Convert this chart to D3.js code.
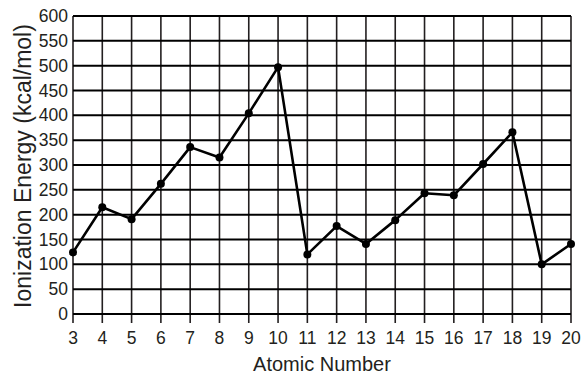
<!DOCTYPE html>
<html>
<head>
<meta charset="utf-8">
<script src="https://cdn.jsdelivr.net/npm/d3@7"></script>
<style>
  body { margin: 0; background: #fff; }
  svg text { font-family: "Liberation Sans", Arial, Helvetica, sans-serif; fill: #231f20; }
</style>
</head>
<body>
<div id="chart"></div>
<script>
// atomic numbers 3..20 and first ionization energies (kcal/mol)
var atomicNumbers = [3, 4, 5, 6, 7, 8, 9, 10, 11, 12, 13, 14, 15, 16, 17, 18, 19, 20];
var energies = [124, 215, 191, 262, 336, 315, 404, 497, 120, 177, 141, 189, 243, 239, 302, 366, 100, 141];
var yTicks = [0, 50, 100, 150, 200, 250, 300, 350, 400, 450, 500, 550, 600];

var data = atomicNumbers.map(function(z, i) { return {z: z, e: energies[i]}; });

var margin = {top: 16, right: 11, bottom: 61, left: 73};
var width = 582 - margin.left - margin.right;
var height = 375 - margin.top - margin.bottom;

var svg = d3.select("#chart").append("svg")
    .attr("width", 582)
    .attr("height", 375)
    .append("g")
    .attr("transform", "translate(" + margin.left + "," + margin.top + ")");

var x = d3.scaleLinear().domain([3, 20]).range([0, width]);
var y = d3.scaleLinear().domain([0, 600]).range([height, 0]);

// grid
svg.append("g").selectAll("line.v")
    .data(atomicNumbers)
    .enter().append("line")
    .attr("x1", function(d) { return x(d); })
    .attr("x2", function(d) { return x(d); })
    .attr("y1", 0)
    .attr("y2", height + 9)
    .attr("stroke", "#231f20")
    .attr("stroke-width", 1.6);

svg.append("g").selectAll("line.h")
    .data(yTicks)
    .enter().append("line")
    .attr("x1", 0)
    .attr("x2", width)
    .attr("y1", function(d) { return y(d); })
    .attr("y2", function(d) { return y(d); })
    .attr("stroke", "#000")
    .attr("stroke-width", 2);

// tick labels
svg.append("g").selectAll("text")
    .data(yTicks)
    .enter().append("text")
    .attr("x", -5)
    .attr("y", function(d) { return y(d); })
    .attr("dy", "0.35em")
    .attr("text-anchor", "end")
    .style("font-size", "17.5px")
    .text(function(d) { return d; });

svg.append("g").selectAll("text")
    .data(atomicNumbers)
    .enter().append("text")
    .attr("x", function(d) { return x(d); })
    .attr("y", height + 30)
    .attr("text-anchor", "middle")
    .style("font-size", "17.5px")
    .text(function(d) { return d; });

// axis titles
svg.append("text")
    .attr("x", width / 2)
    .attr("y", height + 57)
    .attr("text-anchor", "middle")
    .style("font-size", "20px")
    .text("Atomic Number");

svg.append("text")
    .attr("transform", "translate(" + (-42) + "," + (height / 2 + 1) + ") rotate(-90)")
    .attr("text-anchor", "middle")
    .style("font-size", "23px")
    .text("Ionization Energy (kcal/mol)");

// data line + dots
var line = d3.line()
    .x(function(d) { return x(d.z); })
    .y(function(d) { return y(d.e); });

svg.append("path")
    .datum(data)
    .attr("d", line)
    .attr("fill", "none")
    .attr("stroke", "#000")
    .attr("stroke-width", 2.6)
    .attr("stroke-linejoin", "round");

svg.selectAll(".dot")
    .data(data)
    .enter().append("circle")
    .attr("class", "dot")
    .attr("cx", function(d) { return x(d.z); })
    .attr("cy", function(d) { return y(d.e); })
    .attr("r", 4)
    .attr("fill", "#000");
</script>
</body>
</html>
